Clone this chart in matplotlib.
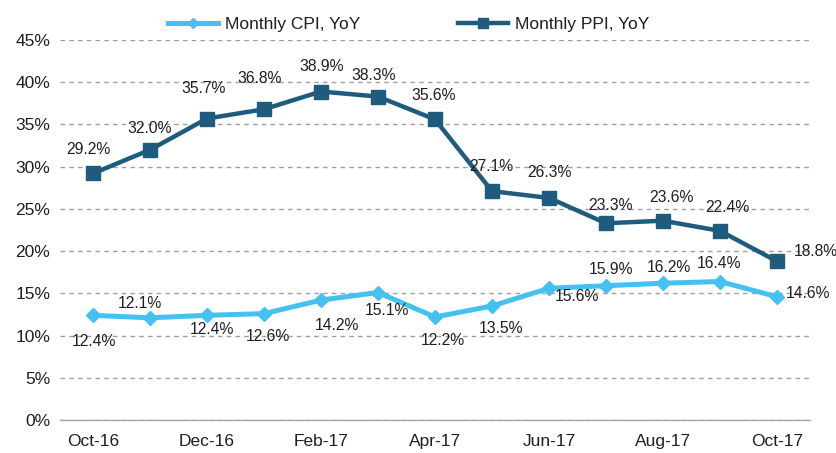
import matplotlib
matplotlib.use("Agg")
import matplotlib.pyplot as plt
from matplotlib.ticker import FuncFormatter

plt.rcParams['font.family'] = ['Liberation Sans', 'DejaVu Sans']

# Dados do gráfico
months = ['Oct-16', 'Nov-16', 'Dec-16', 'Jan-17', 'Feb-17', 'Mar-17', 'Apr-17',
          'May-17', 'Jun-17', 'Jul-17', 'Aug-17', 'Sep-17', 'Oct-17']
cpi = [12.4, 12.1, 12.4, 12.6, 14.2, 15.1, 12.2, 13.5, 15.6, 15.9, 16.2, 16.4, 14.6]
ppi = [29.2, 32.0, 35.7, 36.8, 38.9, 38.3, 35.6, 27.1, 26.3, 23.3, 23.6, 22.4, 18.8]

# Deslocamento dos rótulos (pixels, y para baixo), como no original
cpi_off = [(1, 26), (-10, -14), (5, 14), (4, 23), (16, 25), (9, 18), (8, 24),
           (9, 22), (28, 8), (5, -16), (6, -16), (-1, -18), (31, -3)]
ppi_off = [(-5, -24), (0, -21), (-4, -30), (-4, -31), (1, -25), (-4, -21), (-1, -24),
           (-1, -25), (0, -25), (5, -18), (8, -23), (7, -23), (39, -10)]

cpi_color = '#45C1F1'
ppi_color = '#1F5B7C'
text_color = '#1f1f1f'

fig, ax = plt.subplots(figsize=(8.37, 4.53), dpi=100)
fig.subplots_adjust(left=0.0717, right=0.9677, top=0.9117, bottom=0.0728)

x = list(range(len(months)))
ax.plot(x, cpi, color=cpi_color, lw=3.6, marker='D', ms=7, label='Monthly CPI, YoY', zorder=3)
ax.plot(x, ppi, color=ppi_color, lw=3.2, marker='s', ms=9.4, label='Monthly PPI, YoY', zorder=3)


def rotular(valores, desloc):
    for i, (v, (dx, dy)) in enumerate(zip(valores, desloc)):
        ax.annotate(f'{v:.1f}%', (i, v), xytext=(dx, -dy), textcoords='offset pixels',
                    ha='center', va='center', fontsize=11.3, color=text_color,
                    annotation_clip=False)


rotular(cpi, cpi_off)
rotular(ppi, ppi_off)

ax.set_ylim(0, 45)
ax.set_yticks(range(0, 46, 5))
ax.yaxis.set_major_formatter(FuncFormatter(lambda v, _: f'{v:.0f}%'))
ax.set_xlim(-0.58, 12.58)
ax.set_xticks(x[::2])
ax.set_xticklabels(months[::2])
ax.tick_params(axis='both', length=0, labelsize=12.5, colors=text_color)
ax.tick_params(axis='x', pad=10)
ax.tick_params(axis='y', pad=7)

ax.grid(axis='y', ls=(0, (3.3, 3)), color='#a0a0a0', lw=1)
for s in ['top', 'right', 'left']:
    ax.spines[s].set_visible(False)
ax.spines['bottom'].set_color('#a6a6a6')
ax.spines['bottom'].set_linewidth(1)

ax.legend(loc='center left', bbox_to_anchor=(0.144, 1.04), ncol=2, frameon=False,
          fontsize=12.5, columnspacing=5.6, handlelength=2.9, handletextpad=0.4,
          borderpad=0, borderaxespad=0, markerscale=0.8, labelcolor=text_color)

plt.savefig('out.png', dpi=100)
